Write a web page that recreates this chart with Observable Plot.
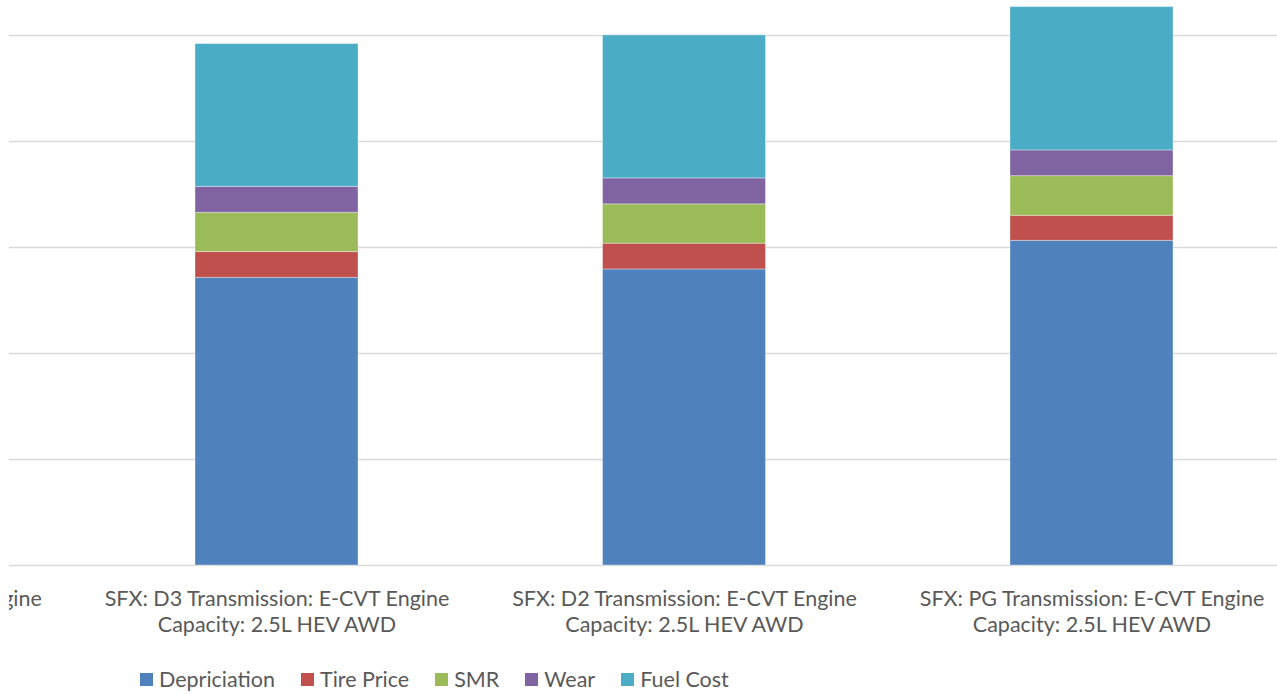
<!DOCTYPE html>
<html>
<head>
<meta charset="utf-8">
<script src="https://cdn.jsdelivr.net/npm/d3@7"></script>
<script src="https://cdn.jsdelivr.net/npm/@observablehq/plot@0.6"></script>
<style>
  html, body { margin: 0; padding: 0; background: #fff; }
  #wrap { position: relative; width: 1277px; height: 694px; overflow: hidden; }
  #chart { position: absolute; left: 9px; top: 0; width: 1268px; overflow: hidden; }
  #legend { position: absolute; left: 140px; top: 666px; display: flex; align-items: center;
            font-family: Lato, "Open Sans", sans-serif; font-size: 21.5px; color: #595959; }
  .item { display: flex; align-items: center; margin-right: 26px; }
  .sw { width: 13px; height: 13px; margin-right: 6px; }
</style>
</head>
<body>
<div id="wrap">
  <div id="chart"></div>
  <div id="legend"></div>
</div>
<script>
// Categories (first one is cut off at the left edge of the picture)
const categories = [
  "SFX: D4 Transmission: E-CVT Engine Capacity: 2.5L HEV AWD",
  "SFX: D3 Transmission: E-CVT Engine Capacity: 2.5L HEV AWD",
  "SFX: D2 Transmission: E-CVT Engine Capacity: 2.5L HEV AWD",
  "SFX: PG Transmission: E-CVT Engine Capacity: 2.5L HEV AWD"
];
const seriesNames = ["Depriciation", "Tire Price", "SMR", "Wear", "Fuel Cost"];
const seriesColors = ["#4F81BD", "#C0504D", "#9BBB59", "#8064A2", "#4BACC6"];

// Values per category (null = not visible in the picture)
const depriciation = [null, 27140, 27930, 30630];
const tirePrice    = [null, 2430, 2430, 2360];
const smr          = [null, 3700, 3710, 3740];
const wear         = [null, 2450, 2450, 2430];
const fuelCost     = [null, 13470, 13490, 13520];

const gridTicks = [0, 10000, 20000, 30000, 40000, 50000];

const seriesValues = [depriciation, tirePrice, smr, wear, fuelCost];
const data = [];
categories.forEach((c, i) => {
  seriesNames.forEach((s, j) => {
    const v = seriesValues[j][i];
    if (v != null) data.push({category: c, series: s, value: v});
  });
});

const chart = Plot.plot({
  width: 1268,
  height: 650,
  marginTop: 0,
  marginLeft: 0,
  marginRight: 0,
  marginBottom: 85,
  style: {fontFamily: "Lato, 'Open Sans', sans-serif", color: "#595959", background: "white"},
  x: {type: "band", domain: categories, range: [-466, 1408.5], padding: 0.6, round: false, label: null},
  y: {domain: [0, 50000], range: [565, 35], axis: null},
  color: {domain: seriesNames, range: seriesColors},
  marks: [
    Plot.ruleY(gridTicks, {stroke: "#d9d9d9", strokeWidth: 1.5}),
    Plot.barY(data, {x: "category", y: "value", fill: "series", stroke: "white", strokeOpacity: 0.35, strokeWidth: 1}),
    Plot.axisX({
      tickSize: 0,
      tickPadding: 22,
      fontSize: 21.5,
      lineHeight: 1.22,
      label: null,
      tickFormat: d => d.replace(" Capacity", "\nCapacity")
    })
  ]
});
document.getElementById("chart").appendChild(chart);

const legend = document.getElementById("legend");
seriesNames.forEach((s, i) => {
  const item = document.createElement("div");
  item.className = "item";
  const sw = document.createElement("div");
  sw.className = "sw";
  sw.style.background = seriesColors[i];
  const t = document.createElement("span");
  t.textContent = s;
  item.appendChild(sw);
  item.appendChild(t);
  legend.appendChild(item);
});
</script>
</body>
</html>
